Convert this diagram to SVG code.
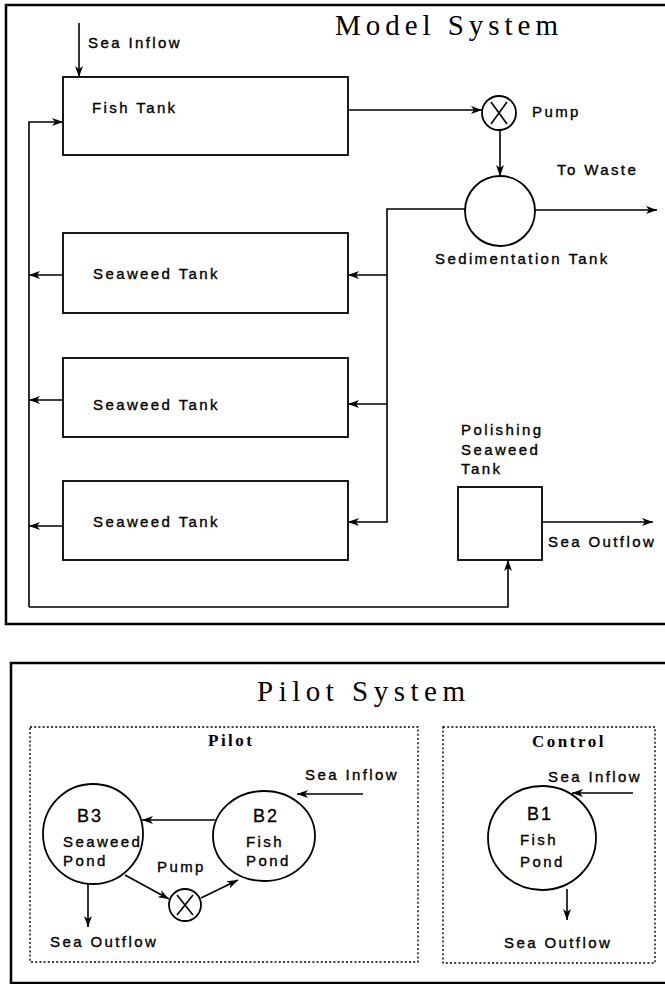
<svg xmlns="http://www.w3.org/2000/svg" width="665" height="984" viewBox="0 0 665 984">
<style>
.frame{fill:none;stroke:#000;stroke-width:2.5}
.box{fill:#fff;stroke:#000;stroke-width:1.8}
.dot{fill:none;stroke:#000;stroke-width:1.4;stroke-dasharray:2 2.2}
.ln{fill:none;stroke:#000;stroke-width:1.6}
.arr{fill:none;stroke:#000;stroke-width:1.6;marker-end:url(#ah)}
.t{font-family:"Liberation Sans",Arial,sans-serif;font-size:15px;letter-spacing:2.4px;fill:#000;stroke:#000;stroke-width:0.35}
.big{font-family:"Liberation Sans",Arial,sans-serif;font-size:18px;letter-spacing:2px;fill:#000;stroke:#000;stroke-width:0.3}
.title{font-family:"Liberation Serif","Times New Roman",serif;font-size:29px;fill:#000}
.sub{font-family:"Liberation Serif","Times New Roman",serif;font-size:17px;font-weight:bold;letter-spacing:2.5px;fill:#000}
</style>
<defs>
<marker id="ah" viewBox="0 0 11 8" refX="11" refY="4" markerWidth="11" markerHeight="8" orient="auto" markerUnits="userSpaceOnUse">
<path d="M0,0 L11,4 L0,8 L3,4 z" fill="#000"/>
</marker>
</defs>
<rect width="665" height="984" fill="#fff"/>

<g id="model-frame">
<rect class="frame" x="6" y="5" width="680" height="619"/>
<text class="title" x="335" y="35" textLength="223" lengthAdjust="spacing">Model System</text>
</g>

<g id="fish-tank">
<rect class="box" x="63" y="77" width="285" height="78"/>
<text class="t" x="92" y="113">Fish Tank</text>
</g>
<g id="pump-model">
<circle class="box" cx="499" cy="113" r="17"/>
<path class="ln" d="M491,102 L507,124 M507,102 L491,124"/>
<text class="t" x="532" y="117">Pump</text>
</g>
<g id="sedimentation-tank">
<circle class="box" cx="500" cy="211" r="35"/>
<text class="t" x="435" y="264">Sedimentation Tank</text>
</g>
<g id="seaweed-tank-1">
<rect class="box" x="63" y="233" width="285" height="80"/>
<text class="t" x="93" y="279">Seaweed Tank</text>
</g>
<g id="seaweed-tank-2">
<rect class="box" x="63" y="358" width="285" height="79"/>
<text class="t" x="93" y="410">Seaweed Tank</text>
</g>
<g id="seaweed-tank-3">
<rect class="box" x="63" y="481" width="285" height="79"/>
<text class="t" x="93" y="527">Seaweed Tank</text>
</g>
<g id="polishing-tank">
<rect class="box" x="458" y="487" width="84" height="73"/>
<text class="t" x="461" y="435">Polishing</text>
<text class="t" x="461" y="455">Seaweed</text>
<text class="t" x="461" y="474">Tank</text>
</g>
<g id="model-labels">
<text class="t" x="88" y="48">Sea Inflow</text>
<text class="t" x="557" y="175">To Waste</text>
<text class="t" x="548" y="547">Sea Outflow</text>
</g>

<g id="model-connectors">
<path class="arr" d="M79,23 L79,77"/>
<path class="arr" d="M348,110 L482,110"/>
<path class="arr" d="M500,130 L500,176"/>
<path class="arr" d="M535,210 L657,210"/>
<path class="arr" d="M465,209 L387,209 L387,522 L348,522"/>
<path class="arr" d="M387,275 L348,275"/>
<path class="arr" d="M387,404 L348,404"/>
<path class="arr" d="M63,275 L29,275"/>
<path class="arr" d="M63,400 L29,400"/>
<path class="arr" d="M63,526 L29,526"/>
<path class="arr" d="M29,607 L29,122 L63,122"/>
<path class="arr" d="M29,607 L508,607 L508,560"/>
<path class="arr" d="M542,522 L653,522"/>
</g>

<g id="pilot-frame">
<rect class="frame" x="11" y="663" width="680" height="320"/>
<text class="title" x="257" y="701" textLength="208" lengthAdjust="spacing">Pilot System</text>
</g>
<g id="pilot-group">
<rect class="dot" x="30" y="727" width="388" height="235"/>
<text class="sub" x="208" y="746">Pilot</text>
</g>
<g id="control-group">
<rect class="dot" x="443" y="727" width="212" height="236"/>
<text class="sub" x="532" y="747">Control</text>
</g>
<g id="b3">
<circle class="box" cx="93" cy="834" r="50"/>
<text class="big" x="77" y="822">B3</text>
<text class="t" x="63" y="847">Seaweed</text>
<text class="t" x="63" y="866">Pond</text>
</g>
<g id="b2">
<ellipse class="box" cx="264" cy="836" rx="51" ry="45"/>
<text class="big" x="253" y="822">B2</text>
<text class="t" x="246" y="847">Fish</text>
<text class="t" x="246" y="866">Pond</text>
</g>
<g id="pump-pilot">
<circle class="box" cx="185" cy="905" r="16"/>
<path class="ln" d="M177,895 L193,915 M193,895 L177,915"/>
<text class="t" x="157" y="872">Pump</text>
</g>
<g id="b1">
<ellipse class="box" cx="542" cy="838" rx="54" ry="52"/>
<text class="big" x="527" y="820">B1</text>
<text class="t" x="520" y="845">Fish</text>
<text class="t" x="520" y="867">Pond</text>
</g>
<g id="pilot-labels">
<text class="t" x="305" y="780">Sea Inflow</text>
<text class="t" x="50" y="947">Sea Outflow</text>
<text class="t" x="548" y="782">Sea Inflow</text>
<text class="t" x="504" y="948">Sea Outflow</text>
</g>
<g id="pilot-connectors">
<path class="arr" d="M216,820 L142,820"/>
<path class="arr" d="M363,794 L297,794"/>
<path class="arr" d="M125,875 L169,899"/>
<path class="arr" d="M201,898 L238,880"/>
<path class="arr" d="M88,884 L88,927"/>
<path class="arr" d="M633,793 L572,793"/>
<path class="arr" d="M567,889 L567,920"/>
</g>
</svg>
